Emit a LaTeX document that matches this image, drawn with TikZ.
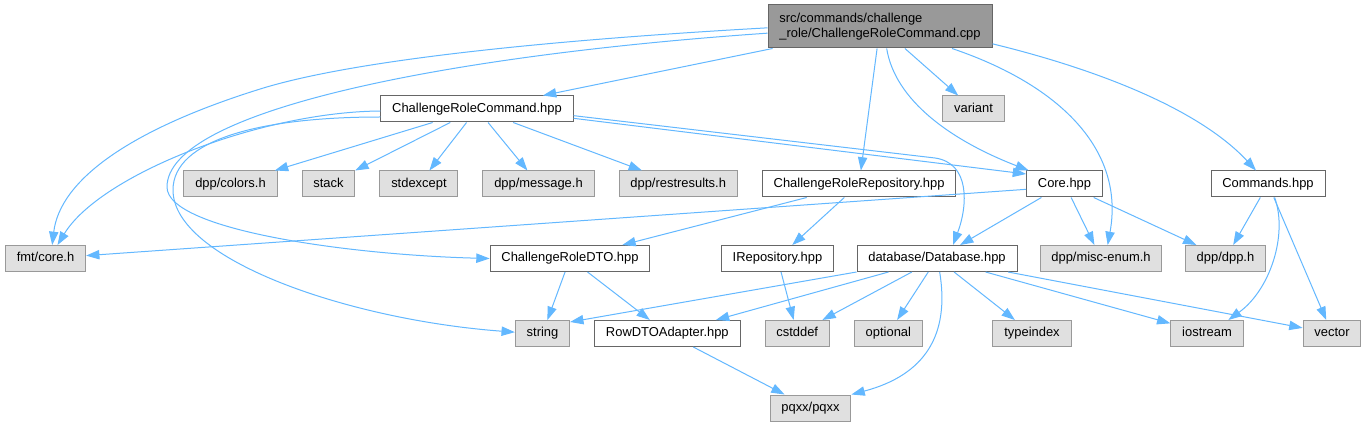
\documentclass[tikz,border=0pt]{standalone}
\usepackage{fontspec}
\setmainfont{Liberation Sans}
\usetikzlibrary{arrows.meta, positioning}
\usepackage{xcolor}
\definecolor{edgeblue}{HTML}{63B8FF}
\definecolor{extfill}{HTML}{E0E0E0}
\definecolor{extline}{HTML}{999999}
\definecolor{fileline}{HTML}{666666}
\definecolor{mainfill}{HTML}{999999}

\begin{document}
\begin{tikzpicture}[
  x=0.75pt, y=-0.75pt,
  node distance=18pt,
  file/.style={rectangle, draw=fileline, line width=0.75pt, fill=white, inner xsep=8.5pt, minimum height=19.5pt, text height=7pt, text depth=2pt, font=\fontsize{9.7}{11.3}\selectfont},
  ext/.style={file, draw=extline, fill=extfill},
  main/.style={rectangle, draw=fileline, line width=0.75pt, fill=mainfill, align=left, minimum width=168pt, minimum height=32.25pt, inner xsep=8.5pt, font=\fontsize{9.7}{11.3}\selectfont},
  dep/.style={->, draw=edgeblue, line width=0.75pt},
  >={Triangle[length=10pt, width=7pt]}
]
\path[fill=white, use as bounding box] (0,0) rectangle (1366,427);

\node[main] (root) at (880,26.5) {src/commands/challenge\\\_role/ChallengeRoleCommand.cpp};
\node[file] (crcmd) at (477,109) {ChallengeRoleCommand.hpp};
\node[ext] (variant) at (973.5,109) {variant};

\node[ext] (colors) at (230.5,184) {dpp/colors.h};
\node[ext, right=of colors] (stack) {stack};
\node[ext, right=of stack] (stdexc) {stdexcept};
\node[ext, right=of stdexc] (msg) {dpp/message.h};
\node[ext, right=of msg] (restres) {dpp/restresults.h};
\node[file, right=of restres] (repo) {ChallengeRoleRepository.hpp};
\node[file] (coreh) at (1064.5,184) {Core.hpp};
\node[file] (cmds) at (1268,184) {Commands.hpp};

\node[ext] (fmt) at (45.5,258.5) {fmt/core.h};
\node[file] (dto) at (570,258.5) {ChallengeRoleDTO.hpp};
\node[file] (irepo) at (777.5,258.5) {IRepository.hpp};
\node[file] (db) at (937,258.5) {database/Database.hpp};
\node[ext] (misc) at (1101,258.5) {dpp/misc-enum.h};
\node[ext] (dpp) at (1225.5,258.5) {dpp/dpp.h};

\node[ext] (str) at (542.5,333.5) {string};
\node[file, right=of str] (rowdto) {RowDTOAdapter.hpp};
\node[ext, right=of rowdto] (cstddef) {cstddef};
\node[ext, right=of cstddef] (opt) {optional};
\node[ext] (typeidx) at (1032,333.5) {typeindex};
\node[ext] (iostr) at (1207,333.5) {iostream};
\node[ext] (vec) at (1332,333.5) {vector};
\node[ext] (pqxx) at (810.5,408) {pqxx/pqxx};

% the .cpp file
\draw[dep] ([yshift=-1pt]root.west) .. controls (550,40) and (350,60) .. (257,90) .. controls (130,130) and (60,180) .. ([xshift=5pt]fmt.north);
\draw[dep] ([yshift=-5pt]root.west) .. controls (450,55) and (167,110) .. (167,187) .. controls (167,230) and (350,255) .. (dto.west);
\draw[dep] (root) -- (crcmd);
\draw[dep] (root) -- (repo);
\draw[dep] ([xshift=5pt]root.south) .. controls (895,100) and (950,140) .. ([xshift=2pt]coreh.north west);
\draw[dep] (root) -- (variant);
\draw[dep] ([xshift=54pt]root.south) .. controls (1060,85) and (1125,150) .. ([xshift=5pt]misc.north);
\draw[dep] ([yshift=-13pt]root.east) .. controls (1100,70) and (1200,110) .. ([xshift=-9pt]cmds.north);

% ChallengeRoleCommand.hpp
\draw[dep] ([yshift=-1.5pt]crcmd.west) .. controls (260,112) and (100,175) .. ([xshift=9pt]fmt.north);
\draw[dep] ([yshift=-6pt]crcmd.west) .. controls (260,117) and (173,140) .. (173,190) .. controls (173,260) and (350,320) .. ([yshift=1pt]str.west);
\draw[dep] (crcmd) -- (colors);
\draw[dep] (crcmd) -- (stack);
\draw[dep] (crcmd) -- (stdexc);
\draw[dep] (crcmd) -- (msg);
\draw[dep] (crcmd) -- (restres);
\draw[dep] ([yshift=-7pt]crcmd.east) -- ([yshift=7.5pt]coreh.west);
\draw[dep] ([yshift=-5pt]crcmd.east) -- (935,158) .. controls (970,163) and (968,205) .. ([xshift=12pt]db.north);

% second row
\draw[dep] (repo) -- (dto);
\draw[dep] (repo) -- (irepo);
\draw[dep] ([yshift=-4pt]coreh.west) -- (fmt);
\draw[dep] (coreh) -- (db);
\draw[dep] (coreh) -- (misc);
\draw[dep] (coreh) -- (dpp);
\draw[dep] (cmds) -- (dpp);
\draw[dep] ([xshift=5pt]cmds.south) .. controls (1288,235) and (1270,290) .. ([xshift=16pt]iostr.north);
\draw[dep] (cmds) -- (vec);

% third row
\draw[dep] (dto) -- (str);
\draw[dep] (dto) -- (rowdto);
\draw[dep] (irepo) -- (cstddef);
\draw[dep] (db.south west) -- ([yshift=-1.5pt]str.north east);
\draw[dep] (db) -- (rowdto);
\draw[dep] (db) -- (cstddef);
\draw[dep] (db) -- (opt);
\draw[dep] ([xshift=2pt]db.south) .. controls (950,335) and (925,375) .. (pqxx.north east);
\draw[dep] (db) -- (typeidx);
\draw[dep] (db) -- (iostr);
\draw[dep] (db) -- (vec);
\draw[dep] (rowdto) -- (pqxx);
\end{tikzpicture}
\end{document}
